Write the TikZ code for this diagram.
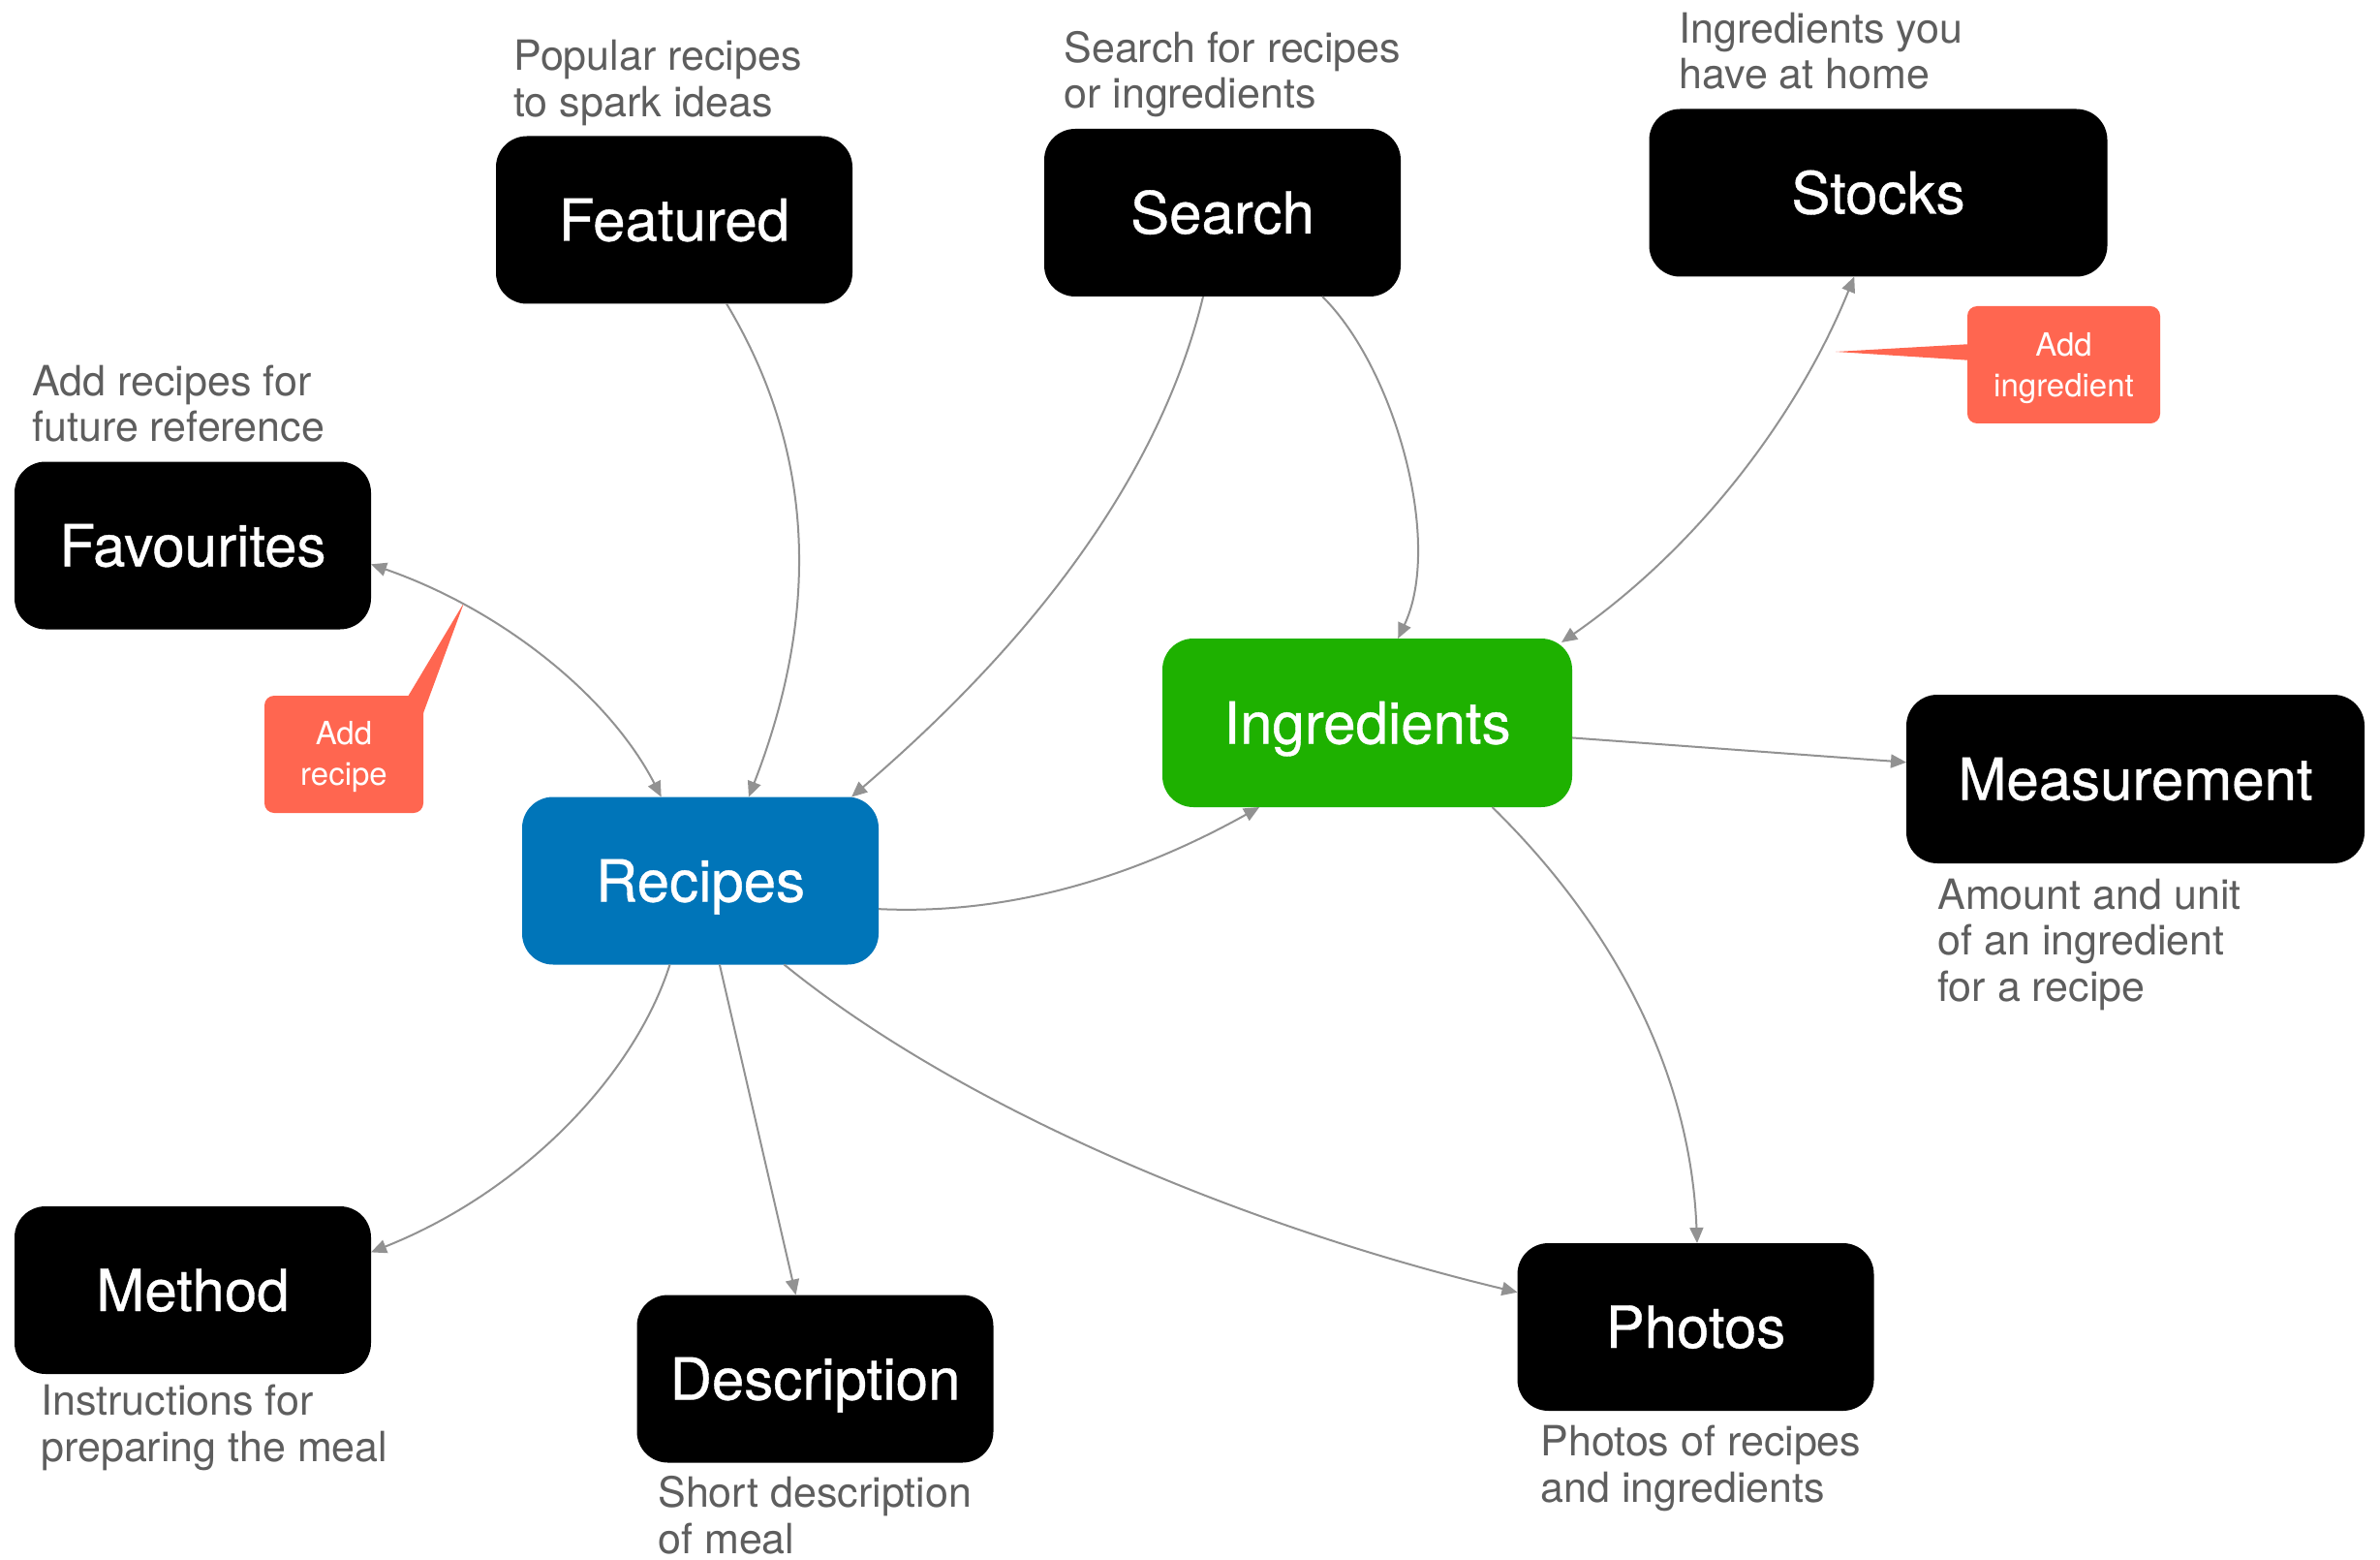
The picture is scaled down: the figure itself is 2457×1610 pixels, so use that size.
\documentclass[tikz,border=0pt]{standalone}
\usepackage{fontspec}
\setmainfont{TeX Gyre Heros}
\newfontfamily\labelfont{TeX Gyre Heros}[FakeBold=0.6]
\usetikzlibrary{arrows.meta}
\definecolor{linkgray}{HTML}{929292}
\definecolor{notegray}{HTML}{5E5E5E}
\definecolor{recipeblue}{HTML}{0075B9}
\definecolor{ingrgreen}{HTML}{1EB100}
\definecolor{tipred}{HTML}{FF6650}

\begin{document}
\begin{tikzpicture}[x=0.5pt,y=-0.5pt,
  box/.style={rectangle, rounded corners=16pt, fill=black, text=white,
    minimum width=184pt, minimum height=86.5pt, inner sep=0pt, outer sep=0pt,
    font=\labelfont\fontsize{30}{36}\selectfont, text height=21.5pt, text depth=0pt},
  widebox/.style={box, minimum width=236.5pt},
  % multi-line texts are anchored at the baseline of their last line
  note/.style={anchor=base west, inner sep=0pt, align=left, text=notegray,
    font=\fontsize{21.5}{23.75}\selectfont},
  tiptext/.style={anchor=base, inner sep=0pt, align=center, text=white,
    font=\fontsize{16.5}{21}\selectfont},
  link/.style={draw=linkgray, line width=1pt, -{Triangle[length=8pt,width=7pt]}},
  twoway/.style={link, {Triangle[length=8pt,width=7pt]}-{Triangle[length=8pt,width=7pt]}},
]
% canvas
\fill[white] (0,0) rectangle (2457,1610);
\path[use as bounding box] (0,0) rectangle (2457,1610);

% main boxes
\node[box] (featured) at (696,227) {Featured};
\node[box] (search) at (1262,219.5) {Search};
\node[widebox] (stocks) at (1939,199) {Stocks};
\node[box] (favourites) at (199,563) {Favourites};
\node[box, fill=ingrgreen, minimum width=211.5pt, minimum height=87pt] (ingredients) at (1411.5,746) {Ingredients};
\node[box, fill=recipeblue] (recipes) at (723,909) {Recipes};
\node[widebox, minimum height=87pt] (measurement) at (2204.5,804) {Measurement};
\node[box] (method) at (199,1331.5) {Method};
\node[box] (description) at (841.5,1423) {Description};
\node[box] (photos) at (1750.5,1369.5) {Photos};

% descriptions
\node[note] (featurednote) at (530,120.5) {Popular recipes\\to spark ideas};
\node[note] (searchnote) at (1098,112) {Search for recipes\\or ingredients};
\node[note] (stocksnote) at (1733,92) {Ingredients you\\have at home};
\node[note] (favouritesnote) at (33,456) {Add recipes for\\future reference};
\node[note] (measurementnote) at (2000,1033) {Amount and unit\\of an ingredient\\for a recipe};
\node[note] (methodnote) at (42,1508) {Instructions for\\preparing the meal};
\node[note] (descriptionnote) at (679,1603) {Short description\\of meal};
\node[note] (photosnote) at (1590,1550) {Photos of recipes\\and ingredients};

% callouts
\fill[tipred, rounded corners=5pt] (273,718) rectangle (437,839);
\fill[tipred] (418,724) -- (479,622) -- (437,736) -- cycle;
\node[tiptext] (addrecipe) at (355,810) {Add\\recipe};
\fill[tipred, rounded corners=5pt] (2031,316) rectangle (2230,437);
\fill[tipred] (2036,355) -- (1895,363) -- (2036,372) -- cycle;
\node[tiptext] (addingredient) at (2130.5,410) {Add\\ingredient};

% connectors
\draw[link] (featured.-58) .. controls (850,480) and (840,650) .. (recipes.60);
\draw[link] (search.-103) .. controls (1200,480) and (1080,650) .. (recipes.29);
\draw[link] (search.-40) .. controls (1440,380) and (1490,560) .. (ingredients.70);
\draw[twoway] (stocks.-106) .. controls (1860,420) and (1760,560) .. ([xshift=-5.5pt,yshift=-2pt]ingredients.north east);
\draw[twoway] (favourites.-6) .. controls (520,630) and (630,720) .. (recipes.115);
\draw[link] (recipes.-9) .. controls (1050,945) and (1180,900) .. (ingredients.-142.5);
\draw[link] (ingredients) -- (measurement);
\draw[link] (ingredients.-34.6) .. controls (1660,950) and (1745,1100) .. (photos.89);
\draw[link] (recipes.-45) .. controls (1000,1150) and (1300,1270) .. (photos.169);
\draw[link] (recipes) -- (description);
\draw[link] (recipes.-110.6) .. controls (655,1110) and (540,1230) .. (method.12.4);
\end{tikzpicture}
\end{document}
